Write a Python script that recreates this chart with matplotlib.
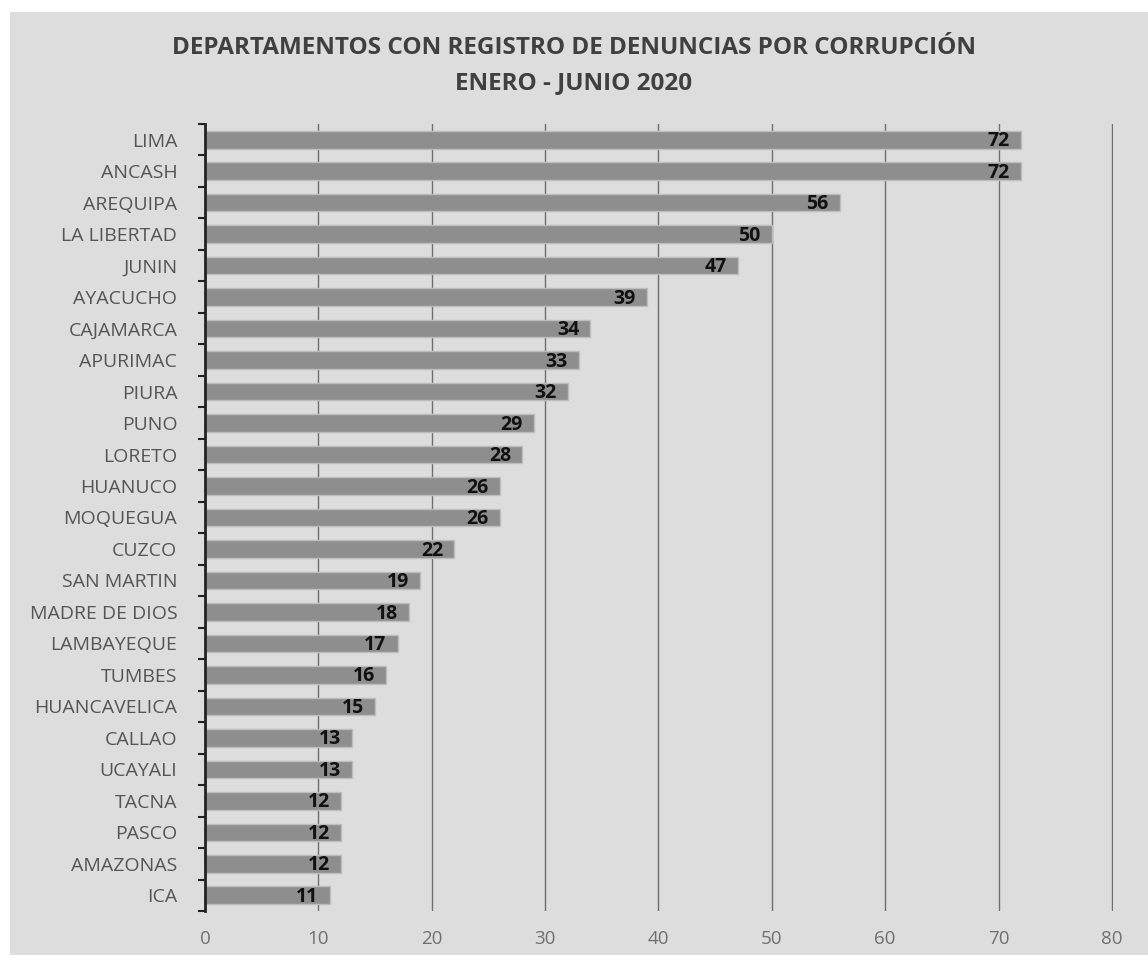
import numpy as np
import matplotlib.pyplot as plt
from matplotlib.patches import Rectangle

departamentos = ["LIMA", "ANCASH", "AREQUIPA", "LA LIBERTAD", "JUNIN", "AYACUCHO",
                 "CAJAMARCA", "APURIMAC", "PIURA", "PUNO", "LORETO", "HUANUCO",
                 "MOQUEGUA", "CUZCO", "SAN MARTIN", "MADRE DE DIOS", "LAMBAYEQUE",
                 "TUMBES", "HUANCAVELICA", "CALLAO", "UCAYALI", "TACNA", "PASCO",
                 "AMAZONAS", "ICA"]
denuncias = [72, 72, 56, 50, 47, 39, 34, 33, 32, 29, 28, 26, 26, 22, 19, 18, 17,
             16, 15, 13, 13, 12, 12, 12, 11]
x_ticks = [0, 10, 20, 30, 40, 50, 60, 70, 80]

plt.rcParams['font.family'] = ['Open Sans', 'DejaVu Sans']

fig = plt.figure(figsize=(11.48, 9.61), dpi=100)
fig.patch.set_facecolor('white')
# gray panel behind the chart
fig.patches.append(Rectangle((10 / 1148, 6 / 961), 1 - 10 / 1148, 1 - 18 / 961,
                             transform=fig.transFigure, facecolor='#dddddd',
                             edgecolor='none', zorder=-5))

ax = fig.add_axes([0.1786, 0.052, 0.7909, 0.819])
ax.set_facecolor('none')

y = np.arange(len(departamentos))
ax.barh(y, denuncias, height=0.56, color='#8e8e8e', edgecolor='#bdbdbd',
        linewidth=1, zorder=3)
for yi, v in zip(y, denuncias):
    ax.text(v - 1.0, yi + 0.05, str(v), ha='right', va='center', fontsize=14,
            fontweight='bold', color='#111111', zorder=4)

ax.set_ylim(len(departamentos) - 0.5, -0.5)
ax.set_xlim(0, 80.1)
ax.set_xticks(x_ticks)
ax.set_yticks(y)
ax.set_yticklabels(departamentos)
ax.set_yticks(np.arange(-0.5, len(departamentos), 1), minor=True)
ax.tick_params(axis='y', which='major', length=0, pad=20, labelsize=14,
               labelcolor='#555555')
ax.tick_params(axis='y', which='minor', length=5, width=1.5, color='#222222')
ax.tick_params(axis='x', length=0, pad=14, labelsize=13.5, labelcolor='#707070')

ax.grid(axis='x', color='#6e6e6e', linewidth=1, zorder=1)
for s in ['top', 'right', 'bottom']:
    ax.spines[s].set_visible(False)
ax.spines['left'].set_color('#222222')
ax.spines['left'].set_linewidth(2)
ax.spines['left'].set_zorder(5)

fig.text(0.5, 0.95, "DEPARTAMENTOS CON REGISTRO DE DENUNCIAS POR CORRUPCIÓN",
         ha='center', va='center', fontsize=17.5, fontweight='bold', color='#404040')
fig.text(0.5, 0.914, "ENERO - JUNIO 2020", ha='center', va='center',
         fontsize=17.5, fontweight='bold', color='#404040')

plt.savefig("out.png", dpi=100)
